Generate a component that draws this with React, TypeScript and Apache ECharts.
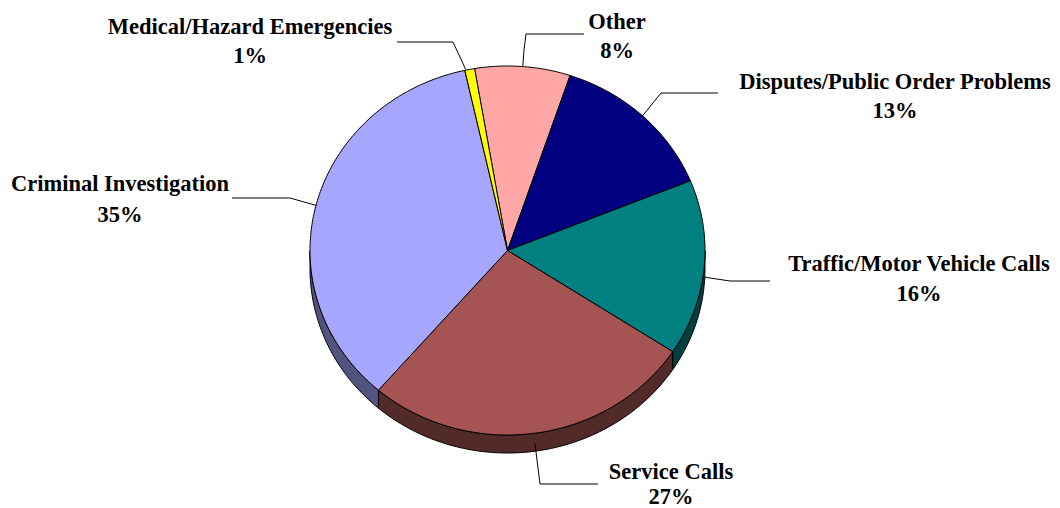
import React, { useEffect, useRef } from "react";
import * as echarts from "echarts";

// Clockwise from the first slice, which starts just left of twelve o'clock.
const categories = [
  "Other",
  "Disputes/Public Order Problems",
  "Traffic/Motor Vehicle Calls",
  "Service Calls",
  "Criminal Investigation",
  "Medical/Hazard Emergencies",
];
// Shares as measured from the slice boundaries in the picture.
const sliceShares = [7.8, 13.7, 15.4, 27.1, 35.2, 0.8];
// Percentages as printed on the labels.
const printedPercents = ["8%", "13%", "16%", "27%", "35%", "1%"];

const topColors = ["#FFA6A6", "#000080", "#008080", "#A65353", "#A6A6FF", "#FFFF00"];
const sideColors = ["#7F5353", "#000040", "#004040", "#532A2A", "#53537F", "#7F7F00"];

const PIE = { cx: 507.5, cy: 250.5, rx: 197.5, ry: 184.5, depth: 18, startDeg: -9.6 };
const FONT = 'bold 22.5px "Liberation Serif"';

// Label centre and rows, then leader elbow and end, plus a nudge of the anchor on the rim.
const labelLayout = [
  { x: 617, y1: 21, y2: 50, elbow: [526, 34], end: [584, 34], nudge: [0, 0], extra: [524, 50] },
  { x: 895, y1: 81, y2: 110, elbow: [661, 93], end: [718, 93], nudge: [0, 0] },
  { x: 919, y1: 263, y2: 293, elbow: [730, 281], end: [770, 281], nudge: [1, 9] },
  { x: 671, y1: 471, y2: 496, elbow: [540, 484], end: [598, 484], nudge: [0, 10] },
  { x: 120, y1: 183, y2: 214, elbow: [290, 198], end: [232, 198], nudge: [0, 0] },
  { x: 250, y1: 26, y2: 55, elbow: [453, 42], end: [397, 42], nudge: [-4, 0] },
];

const rim = (deg: number, dy = 0): number[] => {
  const a = (deg * Math.PI) / 180;
  return [PIE.cx + PIE.rx * Math.sin(a), PIE.cy - PIE.ry * Math.cos(a) + dy];
};

const arc = (from: number, to: number, dy = 0): number[][] => {
  const pts: number[][] = [];
  const n = Math.max(2, Math.ceil(Math.abs(to - from)));
  for (let i = 0; i <= n; i++) pts.push(rim(from + ((to - from) * i) / n, dy));
  return pts;
};

const total = sliceShares.reduce((a, b) => a + b, 0);
const startOf = (index: number): number =>
  PIE.startDeg + (sliceShares.slice(0, index).reduce((a, b) => a + b, 0) / total) * 360;

const renderSlice = (params: any, api: any) => {
  const i = params.dataIndex;
  const share = api.value(0);
  const from = startOf(i);
  const to = from + (share / total) * 360;
  const children: any[] = [];

  const sideFrom = Math.max(from, 90);
  const sideTo = Math.min(to, 270);
  if (sideTo > sideFrom) {
    children.push({
      type: "polygon",
      shape: { points: [...arc(sideFrom, sideTo), ...arc(sideTo, sideFrom, PIE.depth)] },
      style: { fill: sideColors[i], stroke: "#000", lineWidth: 1 },
    });
  }
  children.push({
    type: "polygon",
    shape: { points: [[PIE.cx, PIE.cy], ...arc(from, to)] },
    style: { fill: topColors[i], stroke: "#000", lineWidth: 1 },
  });

  const layout: any = labelLayout[i];
  const anchor = rim((from + to) / 2);
  const start = [anchor[0] + layout.nudge[0], anchor[1] + layout.nudge[1]];
  const leader = layout.extra
    ? [start, layout.extra, layout.elbow, layout.end]
    : [start, layout.elbow, layout.end];
  children.push({
    type: "polyline",
    shape: { points: leader },
    style: { fill: "none", stroke: "#000", lineWidth: 1 },
  });
  const textRow = (text: string, y: number) => ({
    type: "text",
    x: layout.x,
    y,
    style: { text, font: FONT, fill: "#000", align: "center", verticalAlign: "middle" },
  });
  children.push(textRow(categories[i], layout.y1));
  children.push(textRow(printedPercents[i], layout.y2));
  return { type: "group", children };
};

export default function App() {
  const ref = useRef<HTMLDivElement>(null);
  useEffect(() => {
    document.body.style.margin = "0";
    const chart = echarts.init(ref.current!, undefined, { renderer: "svg" });
    chart.setOption({
      animation: false,
      backgroundColor: "#fff",
      series: [
        {
          type: "custom",
          coordinateSystem: "none",
          silent: true,
          renderItem: renderSlice,
          data: sliceShares.map((value, i) => ({ name: categories[i], value: [value] })),
        },
      ],
    });
    return () => chart.dispose();
  }, []);
  return <div ref={ref} style={{ width: 1060, height: 508 }} />;
}
